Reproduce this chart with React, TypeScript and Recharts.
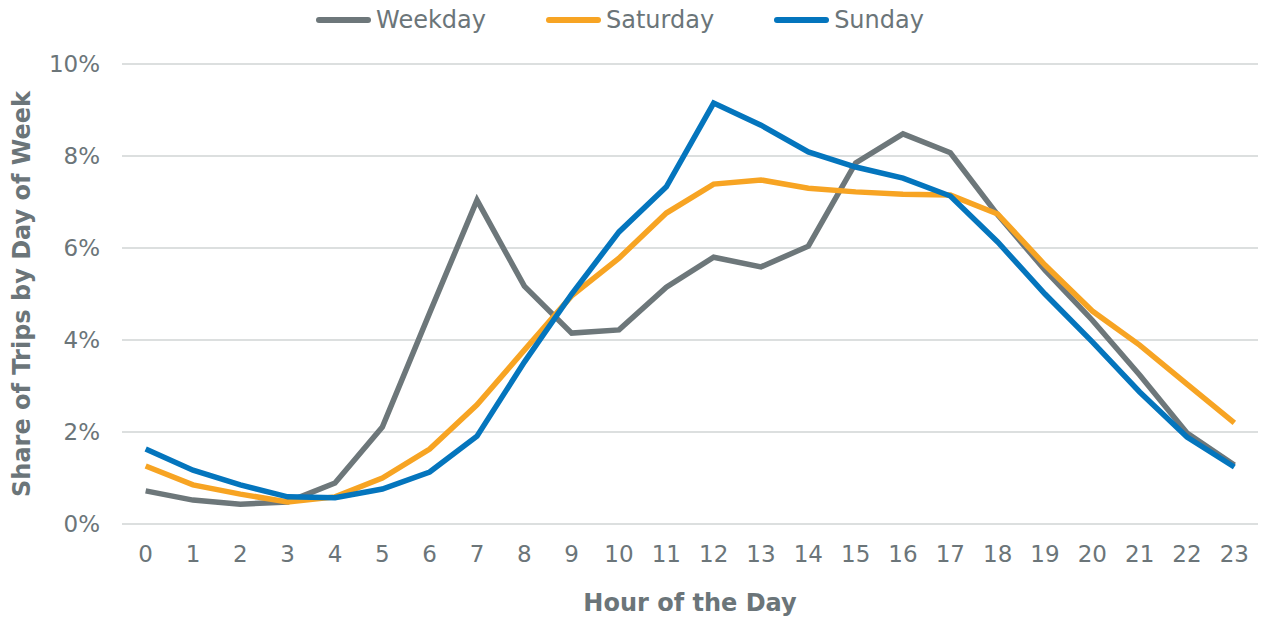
import { LineChart, Line, XAxis, YAxis, CartesianGrid, Legend } from "recharts";

const hours = ["0", "1", "2", "3", "4", "5", "6", "7", "8", "9", "10", "11", "12", "13", "14", "15", "16", "17", "18", "19", "20", "21", "22", "23"];

// share of trips (%)
const weekday = [0.72, 0.52, 0.43, 0.48, 0.89, 2.11, 4.59, 7.04, 5.17, 4.15, 4.22, 5.15, 5.8, 5.59, 6.04, 7.85, 8.48, 8.07, 6.72, 5.52, 4.43, 3.24, 1.98, 1.28];
const saturday = [1.26, 0.85, 0.65, 0.48, 0.59, 1.0, 1.63, 2.59, 3.78, 4.96, 5.78, 6.76, 7.39, 7.48, 7.3, 7.22, 7.17, 7.15, 6.74, 5.63, 4.63, 3.89, 3.04, 2.2];
const sunday = [1.63, 1.17, 0.85, 0.59, 0.57, 0.76, 1.13, 1.91, 3.52, 5.0, 6.35, 7.33, 9.15, 8.67, 8.09, 7.76, 7.52, 7.13, 6.13, 5.0, 3.96, 2.87, 1.89, 1.24];

const yTicks = [0, 2, 4, 6, 8, 10];

const series = [
  { key: "weekday", name: "Weekday", color: "#6d777a" },
  { key: "saturday", name: "Saturday", color: "#f7a423" },
  { key: "sunday", name: "Sunday", color: "#0475bd" },
];

const data = hours.map((h, i) => ({
  hour: h,
  weekday: weekday[i],
  saturday: saturday[i],
  sunday: sunday[i],
}));

const textColor = "#6b7579";
const font = '"DejaVu Sans", Verdana, sans-serif';

function LegendRow() {
  return (
    <div
      style={{
        display: "flex",
        justifyContent: "center",
        gap: 60,
        height: 64,
        boxSizing: "border-box",
        alignItems: "flex-start",
        paddingTop: 5,
        paddingRight: 18,
        fontFamily: font,
        fontSize: 24,
        lineHeight: "30px",
        color: textColor,
      }}
    >
      {series.map((s) => (
        <div key={s.key} style={{ display: "flex", alignItems: "center" }}>
          <span
            style={{
              display: "inline-block",
              width: 55,
              height: 6,
              borderRadius: 3,
              background: s.color,
              marginRight: 5,
            }}
          />
          <span>{s.name}</span>
        </div>
      ))}
    </div>
  );
}

function YTitle(props: any) {
  const vb = props.viewBox;
  const cx = vb.x + 22;
  const cy = vb.y + vb.height / 2;
  return (
    <text
      x={cx}
      y={cy}
      dy="0.35em"
      textAnchor="middle"
      transform={`rotate(-90, ${cx}, ${cy})`}
      fill={textColor}
      fontFamily={font}
      fontSize={24}
      fontWeight="bold"
    >
      Share of Trips by Day of Week
    </text>
  );
}

function XTitle(props: any) {
  const vb = props.viewBox;
  return (
    <text
      x={vb.x + vb.width / 2}
      y={vb.y + 87}
      textAnchor="middle"
      fill={textColor}
      fontFamily={font}
      fontSize={24}
      fontWeight="bold"
    >
      Hour of the Day
    </text>
  );
}

export default function App() {
  return (
    <div style={{ position: "absolute", left: 0, top: 0, background: "#fff" }}>
      <LineChart
        width={1270}
        height={619}
        data={data}
        margin={{ top: 0, right: 12, bottom: 0, left: 0 }}
      >
        <Legend verticalAlign="top" content={() => <LegendRow />} />
        <CartesianGrid vertical={false} stroke="#dcdfdf" strokeWidth={2} />
        <XAxis
          dataKey="hour"
          scale="band"
          height={95}
          tickLine={false}
          axisLine={{ stroke: "#dcdfdf", strokeWidth: 2 }}
          tickMargin={16}
          tick={{ fill: textColor, fontSize: 23, fontFamily: font }}
          interval={0}
          label={<XTitle />}
        />
        <YAxis
          domain={[0, 10]}
          ticks={yTicks}
          width={122}
          tickLine={false}
          axisLine={false}
          tickMargin={16}
          tickFormatter={(v) => `${v}%`}
          tick={{ fill: textColor, fontSize: 23, fontFamily: font }}
          label={<YTitle />}
        />
        {series.map((s) => (
          <Line
            key={s.key}
            dataKey={s.key}
            name={s.name}
            stroke={s.color}
            strokeWidth={5.5}
            dot={false}
            activeDot={false}
            type="linear"
            isAnimationActive={false}
          />
        ))}
      </LineChart>
    </div>
  );
}
